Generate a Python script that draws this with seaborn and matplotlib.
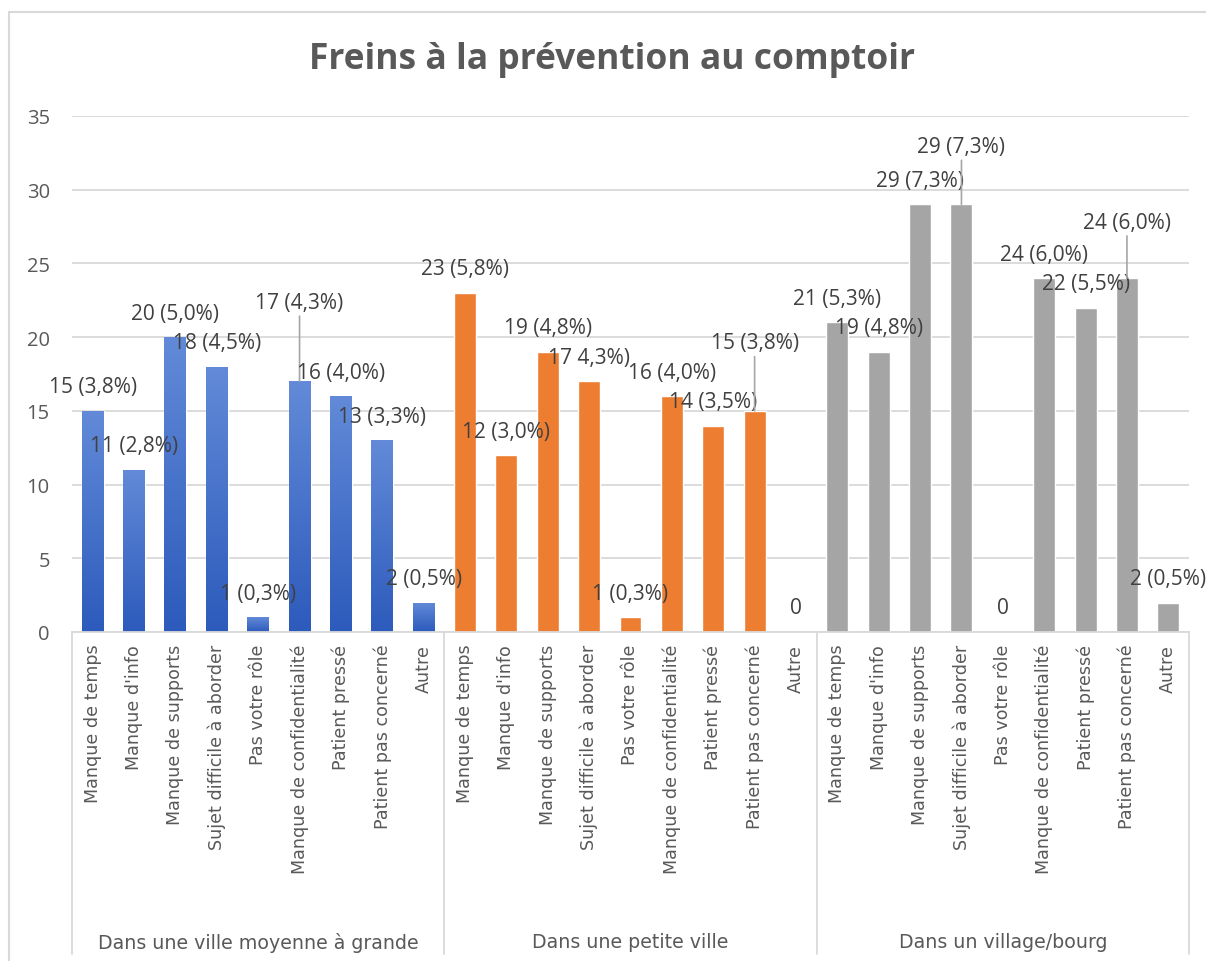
import matplotlib
matplotlib.use("Agg")
import matplotlib.pyplot as plt
import numpy as np
import pandas as pd
import seaborn as sns
from matplotlib.colors import LinearSegmentedColormap
from matplotlib.lines import Line2D

# ---------------------------------------------------------------
# Data
# ---------------------------------------------------------------
groups = ["Dans une ville moyenne à grande", "Dans une petite ville", "Dans un village/bourg"]
categories = ["Manque de temps", "Manque d'info", "Manque de supports",
              "Sujet difficile à aborder", "Pas votre rôle",
              "Manque de confidentialité", "Patient pressé",
              "Patient pas concerné", "Autre"]

counts_ville = [15, 11, 20, 18, 1, 17, 16, 13, 2]
counts_petite = [23, 12, 19, 17, 1, 16, 14, 15, 0]
counts_village = [21, 19, 29, 29, 0, 24, 22, 24, 2]

labels_ville = ["15 (3,8%)", "11 (2,8%)", "20 (5,0%)", "18 (4,5%)", "1 (0,3%)",
                "17 (4,3%)", "16 (4,0%)", "13 (3,3%)", "2 (0,5%)"]
labels_petite = ["23 (5,8%)", "12 (3,0%)", "19 (4,8%)", "17 4,3%)", "1 (0,3%)",
                 "16 (4,0%)", "14 (3,5%)", "15 (3,8%)", "0"]
labels_village = ["21 (5,3%)", "19 (4,8%)", "29 (7,3%)", "29 (7,3%)", "0",
                  "24 (6,0%)", "22 (5,5%)", "24 (6,0%)", "2 (0,5%)"]

y_ticks = [0, 5, 10, 15, 20, 25, 30, 35]

# ---------------------------------------------------------------
# Styling
# ---------------------------------------------------------------
W, H, DPI = 1206, 962, 100
PT = 72 / DPI  # points per pixel
palette = ["#4472C4", "#ED7D31", "#A5A5A5"]
grid_col = "#D9D9D9"
text_col = "#404040"
tick_col = "#595959"

# labels that Excel pushed upward with a leader line: (group, index) -> px above bar
lifted = {(0, 5): 79, (1, 7): 68, (2, 3): 58, (2, 7): 56}
normal_off = 24

sns.set_theme(style="white")
plt.rcParams["font.family"] = ["Open Sans", "DejaVu Sans"]

n_cat = len(categories)
df = pd.DataFrame({
    "pos": np.arange(n_cat * len(groups)),
    "count": counts_ville + counts_petite + counts_village,
    "label": labels_ville + labels_petite + labels_village,
    "group": np.repeat(groups, n_cat),
    "cat": categories * len(groups),
})

fig = plt.figure(figsize=(W / DPI, H / DPI), dpi=DPI)
ax_left, ax_right, ax_top, ax_bot = 72, 1189, 117, 633
ax = fig.add_axes([ax_left / W, 1 - ax_bot / H, (ax_right - ax_left) / W, (ax_bot - ax_top) / H])

sns.barplot(data=df, x="pos", y="count", hue="group", hue_order=groups,
            palette=palette, dodge=False, width=0.53, legend=False,
            saturation=1, ax=ax, zorder=3)

# gradient on the blue bars
grad = LinearSegmentedColormap.from_list("blue_grad", ["#2D5BBC", "#628AD8"])
for p in ax.patches:
    x0, w, h = p.get_x(), p.get_width(), p.get_height()
    if x0 + w / 2 < n_cat - 0.5 and h > 0:
        img = ax.imshow(np.linspace(0, 1, 100).reshape(-1, 1), cmap=grad, origin="lower",
                        extent=(x0, x0 + w, 0, h), aspect="auto", zorder=3.5)
        img.set_clip_path(p)

ax.set_xlim(-0.5, n_cat * len(groups) - 0.5)
ax.set_ylim(0, 35)
ax.set_yticks(y_ticks)
ax.yaxis.grid(True, color=grid_col, lw=1.3, zorder=0)
ax.xaxis.grid(False)
for s in ["top", "left", "right"]:
    ax.spines[s].set_visible(False)
ax.spines["bottom"].set_color(grid_col)
ax.spines["bottom"].set_linewidth(1.3)
ax.spines["bottom"].set_zorder(4)
ax.tick_params(axis="y", length=0, pad=16, labelsize=14.5, labelcolor=tick_col)
ax.set_xticks(df["pos"])
ax.set_xticklabels(df["cat"], rotation=90, fontsize=12.6, color=tick_col, family="DejaVu Sans")
ax.tick_params(axis="x", length=0, pad=8.5)
ax.set_xlabel("")
ax.set_ylabel("")

# data labels
for i, row in df.iterrows():
    g, k = divmod(i, n_cat)
    off = lifted.get((g, k), normal_off)
    kw = {}
    if (g, k) in lifted:
        kw["arrowprops"] = dict(arrowstyle="-", color="#A6A6A6", lw=1.2, shrinkA=0, shrinkB=0)
    ax.annotate(row["label"], xy=(row["pos"], row["count"]), xytext=(0, off * PT),
                textcoords="offset points", ha="center", va="center",
                fontsize=15, color=text_col, zorder=5, **kw)

# multi-level category axis: separators and group names
trans = ax.get_xaxis_transform()
y_end = (ax_bot - 955) / (ax_bot - ax_top)
for b in np.arange(len(groups) + 1) * n_cat - 0.5:
    ax.add_line(Line2D([b, b], [0, y_end], transform=trans, color=grid_col,
                       lw=1.3, clip_on=False))
y_grp = (ax_bot - 943) / (ax_bot - ax_top)
for gi, gname in enumerate(groups):
    ax.text(gi * n_cat + (n_cat - 1) / 2, y_grp, gname, transform=trans,
            ha="center", va="center", fontsize=13.7, color=tick_col, family="DejaVu Sans")

# title and chart border
fig.text(612 / W, 1 - 60 / H, "Freins à la prévention au comptoir", ha="center", va="center",
         fontsize=25.5, fontweight="bold", color=tick_col)
fig.add_artist(Line2D([9 / W, 9 / W], [0, 1 - 13 / H], transform=fig.transFigure,
                      color=grid_col, lw=1.5))
fig.add_artist(Line2D([9 / W, 1], [1 - 13 / H, 1 - 13 / H], transform=fig.transFigure,
                      color=grid_col, lw=1.5))

fig.savefig("out.png", dpi=DPI)
